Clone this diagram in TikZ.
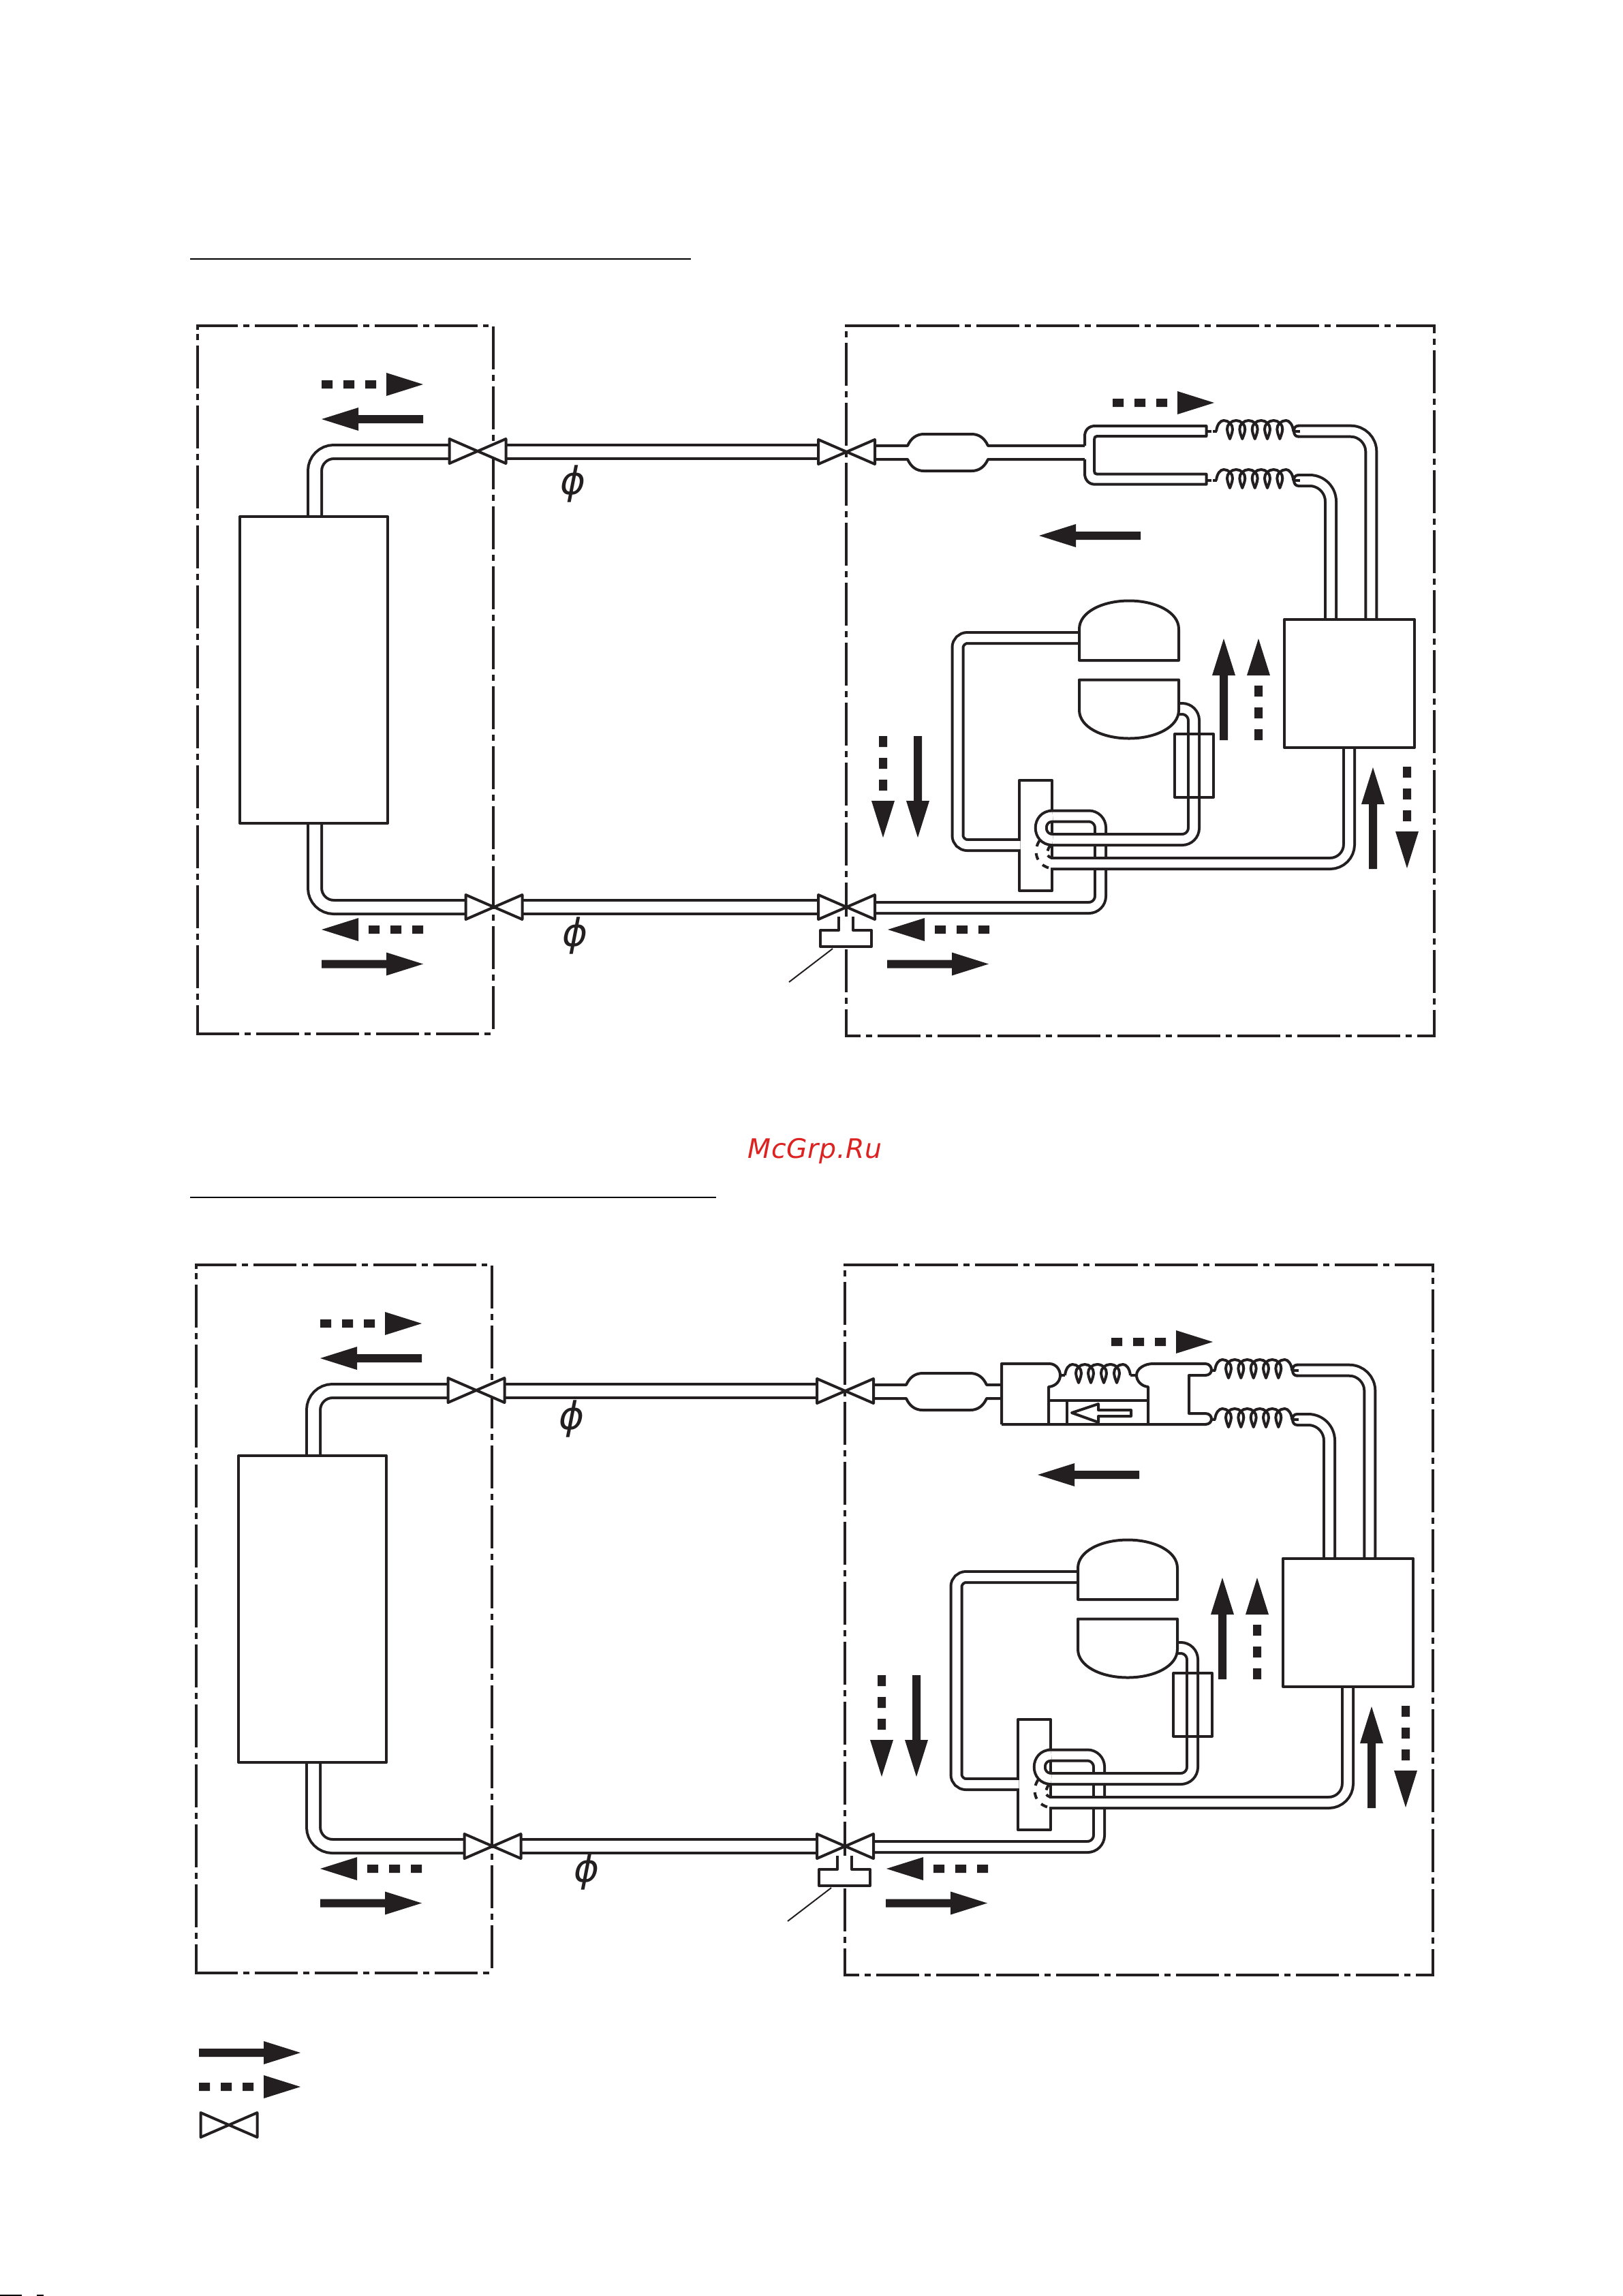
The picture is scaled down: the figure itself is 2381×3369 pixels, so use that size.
\documentclass[tikz,border=0pt]{standalone}
\usepackage{fontspec}
\newfontfamily\wmfont[LetterSpace=1.5]{DejaVu Sans}
\newfontfamily\phifont{DejaVu Sans}
\newcommand\phisym{{\phifont\itshape\fontsize{13.5}{15}\selectfont\symbol{"03D5}}}
\definecolor{ink}{HTML}{231F20}
\definecolor{wmred}{HTML}{DD2222}
\tikzset{
  ln/.style={draw=ink,line width=0.96pt,line join=round},
  thinln/.style={draw=ink,line width=0.48pt},
  rulefine/.style={draw=black,line width=0.5pt},
  wpipe/.style={draw=ink,line width=0.96pt,double=white,double distance=3.84pt},
  npipe/.style={draw=ink,line width=0.96pt,double=white,double distance=2.88pt},
  border/.style={draw=ink,line width=0.96pt,dash pattern=on 15.12pt off 1.92pt on 2.16pt off 1.92pt},
  dotted arc/.style={draw=ink,line width=0.96pt,dash pattern=on 2.4pt off 2.4pt},
  solidhead/.style={fill=ink,draw=none},
}
% arrows: tail x, tail y, direction (canvas degrees)
\newcommand\arrS[3]{\begin{scope}[shift={(#1,#2)},rotate=#3]
  \fill[solidhead] (0,-6) -- (95,-6) -- (95,-17) -- (149,0) -- (95,17) -- (95,6) -- (0,6) -- cycle;
\end{scope}}
\newcommand\arrD[3]{\begin{scope}[shift={(#1,#2)},rotate=#3]
  \fill[solidhead] (0,-6) rectangle (16,6) (32,-6) rectangle (48,6) (64,-6) rectangle (80,6);
  \fill[solidhead] (95,-17) -- (149,0) -- (95,17) -- cycle;
\end{scope}}
\newcommand\valve[2]{\draw[ln,fill=white] (#1-41.5,#2-18) -- (#1+41.5,#2+18) -- (#1+41.5,#2-18) -- (#1-41.5,#2+18) -- cycle;}
% coil: top y, axes, start x, end x
\newcommand\coil[4]{\begin{scope}[shift={(0,#1)}]
  \draw[ln] (#3,16) .. controls (#3+1,6) and (#3+6,0) .. (#3+11,0)
    foreach \a in {#2} { .. controls (\a-2,0) and (\a+4.5,6) .. (\a+4,13)
      .. controls (\a+3.5,19) and (\a+1,24) .. (\a,27)
      .. controls (\a-1,24) and (\a-3.5,19) .. (\a-4,13)
      .. controls (\a-4.5,6) and (\a+2,0) .. (\a+9.2,0) }
    .. controls (#4-6,0) and (#4-1,6) .. (#4,16);
\end{scope}}
% shared circuit: #1 = x where muffler pipe ends; #2 = tag; #3 = y of upper phi; #4,#5 = lower phi
\newcommand\circuit[5]{%
  % dash-dot unit borders
  \draw[border,dash phase=0.96pt] (290,478) -- (717,478);
  \draw[border,dash phase=15.12pt] (290,482) -- (290,1517);
  \draw[ln] (290,476) -- (290,484);
  \draw[border] (724,479) -- (724,1511);
  \draw[border] (288,1516.7) -- (722,1516.7);
  \draw[ln] (1240,478) -- (1257,478);
  \draw[border] (1257,478) -- (2106,478);
  \draw[border,dash phase=15.12pt] (1242,478) -- (1242,1331);
  \draw[border,dash phase=5.3pt] (1242,1522) -- (1242,1331);
  \draw[border,dash phase=12pt] (2105,476) -- (2105,1522);
  \draw[border,dash phase=9.6pt] (1240,1520) -- (2107,1520);
  % indoor unit piping
  \draw[wpipe,rounded corners=6.7pt] (660,663) -- (462,663) -- (462,758);
  \draw[wpipe,rounded corners=6.7pt] (462,1208) -- (462,1331) -- (685,1331);
  \draw[wpipe] (742,663) -- (1202,663);
  \draw[wpipe] (766,1331) -- (1202,1331);
  \draw[ln] (352,758) rectangle (569,1208);
  % muffler
  \draw[ln] (1284,654) -- (1332,654) .. controls (1337,643) and (1345,637) .. (1356,637)
     -- (1426,637) .. controls (1437,637) and (1445,643) .. (1450,654) -- (#1,654);
  \draw[ln] (1284,674) -- (1332,674) .. controls (1337,685) and (1345,691) .. (1356,691)
     -- (1426,691) .. controls (1437,691) and (1445,685) .. (1450,674) -- (#1,674);
  % coils and their pipes
  \coil{617}{1805,1823.3,1841.7,1860,1878.3}{1785}{1898.3}
  \coil{689}{1805,1823.3,1841.7,1860,1878.3}{1785}{1898.3}
  \draw[npipe,rounded corners=7.2pt] (1905,632.7) -- (2012.3,632.7) -- (2012.3,908);
  \draw[npipe,rounded corners=7.4pt] (1905,705) -- (1953,705) -- (1953,908);
  \draw[ln] (1906,624.7) .. controls (1901,624.7) and (1899,628) .. (1899,632.7) .. controls (1899,637) and (1901,640.7) .. (1906,640.7);
  \draw[ln] (1899,632.7) -- (1908,632.7);
  \draw[ln] (1906,697) .. controls (1901,697) and (1899,700) .. (1899,705) .. controls (1899,709) and (1901,713) .. (1906,713);
  \draw[ln] (1899,705) -- (1908,705);
  % accumulator body, then the pipes crossing it
  \draw[ln] (1496,1145) rectangle (1544,1307);
  \draw[npipe,rounded corners=4.1pt] (1540,1197.5) -- (1615,1197.5) -- (1615,1332) -- (1285,1332);
  \draw[npipe,rounded corners=4.1pt] (1730,1040) -- (1752,1040) -- (1752,1232) -- (1544,1232);
  \draw[npipe] (1545,1232) .. controls (1522,1232) and (1522,1197.5) .. (1545,1197.5);
  \draw[npipe,rounded corners=6.7pt] (1980,1097) -- (1980,1267) -- (1542,1267);
  \draw[npipe,rounded corners=3.4pt] (1584,936) -- (1405.5,936) -- (1405.5,1240) -- (1497.5,1240);
  \draw[dotted arc] (1526,1233) .. controls (1517,1245) and (1517,1270) .. (1545,1275);
  \draw[dotted arc,dash pattern=on 2pt off 1.6pt] (1541,1241) .. controls (1536,1249) and (1534,1258) .. (1546,1259);
  % compressor
  \draw[ln,fill=white] (1584,969) -- (1584,923) .. controls (1584,898) and (1618,881.5) .. (1657,881.5)
     .. controls (1696,881.5) and (1730,898) .. (1730,923) -- (1730,969) -- cycle;
  \draw[ln,fill=white] (1584,997.5) -- (1584,1042) .. controls (1584,1067) and (1618,1083.5) .. (1657,1083.5)
     .. controls (1696,1083.5) and (1730,1067) .. (1730,1042) -- (1730,997.5) -- cycle;
  \draw[ln] (1724,1077) rectangle (1781,1169.5);
  % outdoor heat exchanger
  \draw[ln,fill=white] (1885,908.5) rectangle (2076,1097);
  % valves
  \draw[ln,fill=white] (1231,1345) -- (1231,1365) -- (1204,1365) -- (1204,1389) -- (1279,1389) -- (1279,1365) -- (1252,1365) -- (1252,1345);
  \valve{701}{662}
  \valve{725}{1331}
  \valve{1242.5}{663}
  \valve{1242.5}{1331}
  \draw[thinln] (1222,1392) -- (1158,1441);
  % phi labels
  \node[inner sep=0pt,text=ink] (phi#2a) at (841,#3) {\phisym};
  \node[inner sep=0pt,text=ink] (phi#2b) at (#4,#5) {\phisym};
  % flow arrows
  \arrD{472}{564}{0}
  \arrS{621}{615}{180}
  \arrD{621}{1364}{180}
  \arrS{472}{1414.5}{0}
  \arrD{1452}{1364}{180}
  \arrS{1302}{1414.5}{0}
  \arrD{1633}{591}{0}
  \arrS{1674}{786}{180}
  \arrS{1796}{1086}{90}
  \arrD{1847}{1086}{90}
  \arrD{1296}{1080}{-90}
  \arrS{1347}{1080}{-90}
  \arrS{2015}{1275}{90}
  \arrD{2065}{1125}{-90}
}
\begin{document}
\begin{tikzpicture}[x=0.24pt,y=-0.24pt]
\useasboundingbox (0,0) rectangle (2381,3369);
\fill[white] (0,0) rectangle (2381,3369);
% section rules
\draw[rulefine] (279,380) -- (1014,380);
\draw[rulefine] (279,1757) -- (1051,1757);
% first circuit
\begin{scope}
  \circuit{1592}{one}{710}{844}{1373}
  % distributor fork
  \draw[ln] (1592,654) -- (1592,640) .. controls (1592,631) and (1598,625) .. (1607,625) -- (1770.5,625) -- (1770.5,640)
     -- (1610,640) .. controls (1607,640) and (1606,642) .. (1606,645) -- (1606,691) .. controls (1606,694) and (1607,695.7) .. (1610,695.7)
     -- (1770.5,695.7) -- (1770.5,710.7) -- (1607,710.7) .. controls (1598,710.7) and (1592,704) .. (1592,695) -- (1592,674);
  \draw[ln] (1770.5,632.7) -- (1778,632.7);
  \draw[ln] (1780,632.7) -- (1786,632.7);
  \draw[ln] (1770.5,704.7) -- (1778,704.7);
  \draw[ln] (1780,704.7) -- (1786,704.7);
\end{scope}
% watermark
\node[anchor=base west,inner sep=0pt,text=wmred] (wm) at (1097,1699) {\wmfont\fontsize{9.45}{11}\selectfont\itshape McGrp.Ru};
% second circuit
\begin{scope}[shift={(-2,1378)}]
  \circuit{1472}{two}{704}{863}{1368}
  % four-way valve, local coordinates = page coordinates + (2,-1378)
  \draw[ln] (1472,712) -- (1472,623) -- (1542,623) .. controls (1552,623) and (1558,632) .. (1558,640)
     .. controls (1558,648) and (1552,656) .. (1541,657) -- (1541,712);
  \draw[ln] (1472,712) -- (1771,712) .. controls (1777,712) and (1780,708) .. (1780,704)
     .. controls (1780,700) and (1777,696) .. (1771,696) -- (1747,696) -- (1747,640) -- (1771,640)
     .. controls (1777,640) and (1780,636) .. (1780,632) .. controls (1780,628) and (1777,623) .. (1771,623)
     -- (1694,623) .. controls (1682,623) and (1670,630) .. (1670,640) .. controls (1670,648) and (1677,656) .. (1687,657) -- (1687,712);
  \draw[ln] (1541,677) -- (1687,677);
  \draw[ln] (1568,677) -- (1568,712);
  \draw[ln] (1575,695) -- (1614,682) -- (1614,691) -- (1662,691) -- (1662,700) -- (1614,700) -- (1614,709) -- cycle;
  \coil{624}{1585,1603,1622,1641}{1565}{1661}
  \draw[ln] (1558,640) -- (1565,640);
  \draw[ln] (1661,640) -- (1670,640);
  \draw[ln] (1780,632.7) -- (1786,632.7);
  \draw[ln] (1780,704.7) -- (1786,704.7);
\end{scope}
% legend
\arrS{292}{3012}{0}
\arrD{292}{3062}{0}
\valve{336}{3118}
% page-edge remnants
\draw[rulefine] (0,3368) -- (32,3368);
\draw[rulefine] (54,3368) -- (64,3368);
\end{tikzpicture}
\end{document}
